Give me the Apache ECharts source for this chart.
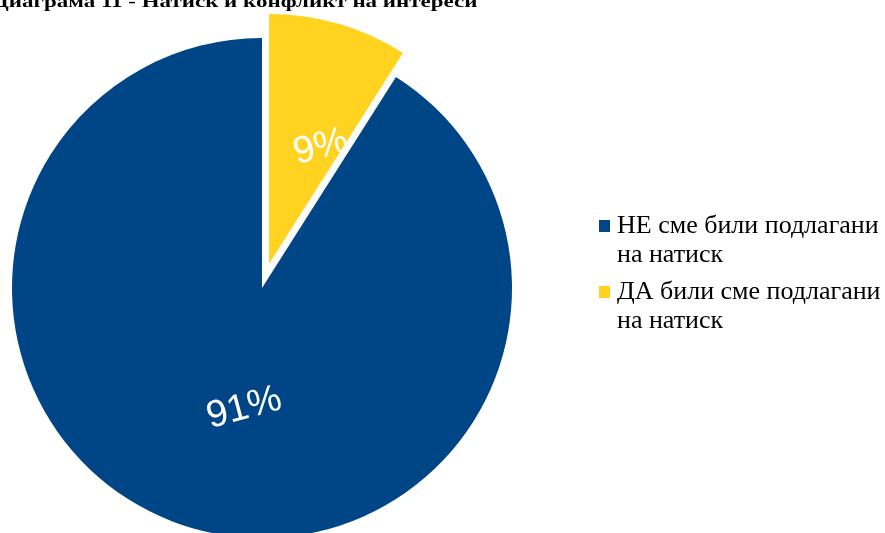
<!DOCTYPE html>
<html>
<head>
<meta charset="utf-8">
<script src="https://cdn.jsdelivr.net/npm/echarts@6/dist/echarts.min.js"></script>
<style>
  html, body { margin: 0; padding: 0; background: #fff; }
  #chart { width: 885px; height: 533px; }
</style>
</head>
<body>
<div id="chart"></div>
<script>
// Survey answers: pressure / conflict of interest
const categories = ['ДА били сме подлагани на натиск', 'НЕ сме били подлагани на натиск'];
const shares = [9, 91];
const colors = ['#ffd320', '#004586'];
const legendOrder = ['НЕ сме били подлагани на натиск', 'ДА били сме подлагани на натиск'];
const titleText = 'Диаграма 11 - Натиск и конфликт на интереси';

const LEGEND_LINE = 29;

const chart = echarts.init(document.getElementById('chart'), null, { renderer: 'canvas' });

const data = categories.map((name, i) => ({
  name: name,
  value: shares[i],
  selected: i === 0,
  itemStyle: { color: colors[i] }
}));

// small nudges for the rotated percentage labels
const labelShift = [{ dx: 14, dy: 10 }, { dx: 18, dy: 2 }];

chart.setOption({
  animation: false,
  backgroundColor: '#ffffff',
  graphic: [{
    type: 'text',
    x: -7,
    y: 11,
    scaleX: 1.435,
    style: {
      text: titleText,
      font: 'bold 16px "Liberation Serif"',
      fill: '#000',
      verticalAlign: 'bottom',
      align: 'left'
    }
  }],
  legend: {
    orient: 'vertical',
    left: 594,
    top: 221 - LEGEND_LINE / 2 - LEGEND_LINE,
    itemWidth: 11,
    itemHeight: 12,
    itemGap: 66 - 3 * LEGEND_LINE,
    icon: 'rect',
    data: legendOrder,
    // leading blank line keeps the swatch level with the first text line
    formatter: function (name) {
      return '\n' + name.replace(' на натиск', '\nна натиск');
    },
    textStyle: {
      fontFamily: 'Liberation Serif',
      fontSize: 26,
      lineHeight: LEGEND_LINE,
      color: '#000',
      padding: [0, 0, 0, 2]
    }
  },
  series: [{
    type: 'pie',
    center: [262, 288],
    radius: 250,
    startAngle: 90,
    clockwise: true,
    selectedMode: 'single',
    selectedOffset: 25,
    data: data,
    emphasis: { disabled: true },
    label: {
      show: true,
      position: 'inside',
      formatter: '{c}%',
      rotate: 15,
      fontFamily: 'Liberation Sans',
      fontSize: 38,
      color: '#ffffff',
      textShadowColor: 'rgba(0,0,0,0.9)',
      textShadowOffsetX: 1,
      textShadowOffsetY: 1,
      textShadowBlur: 0
    },
    labelLayout: function (p) {
      return labelShift[p.dataIndex];
    },
    labelLine: { show: false }
  }]
});
</script>
</body>
</html>
